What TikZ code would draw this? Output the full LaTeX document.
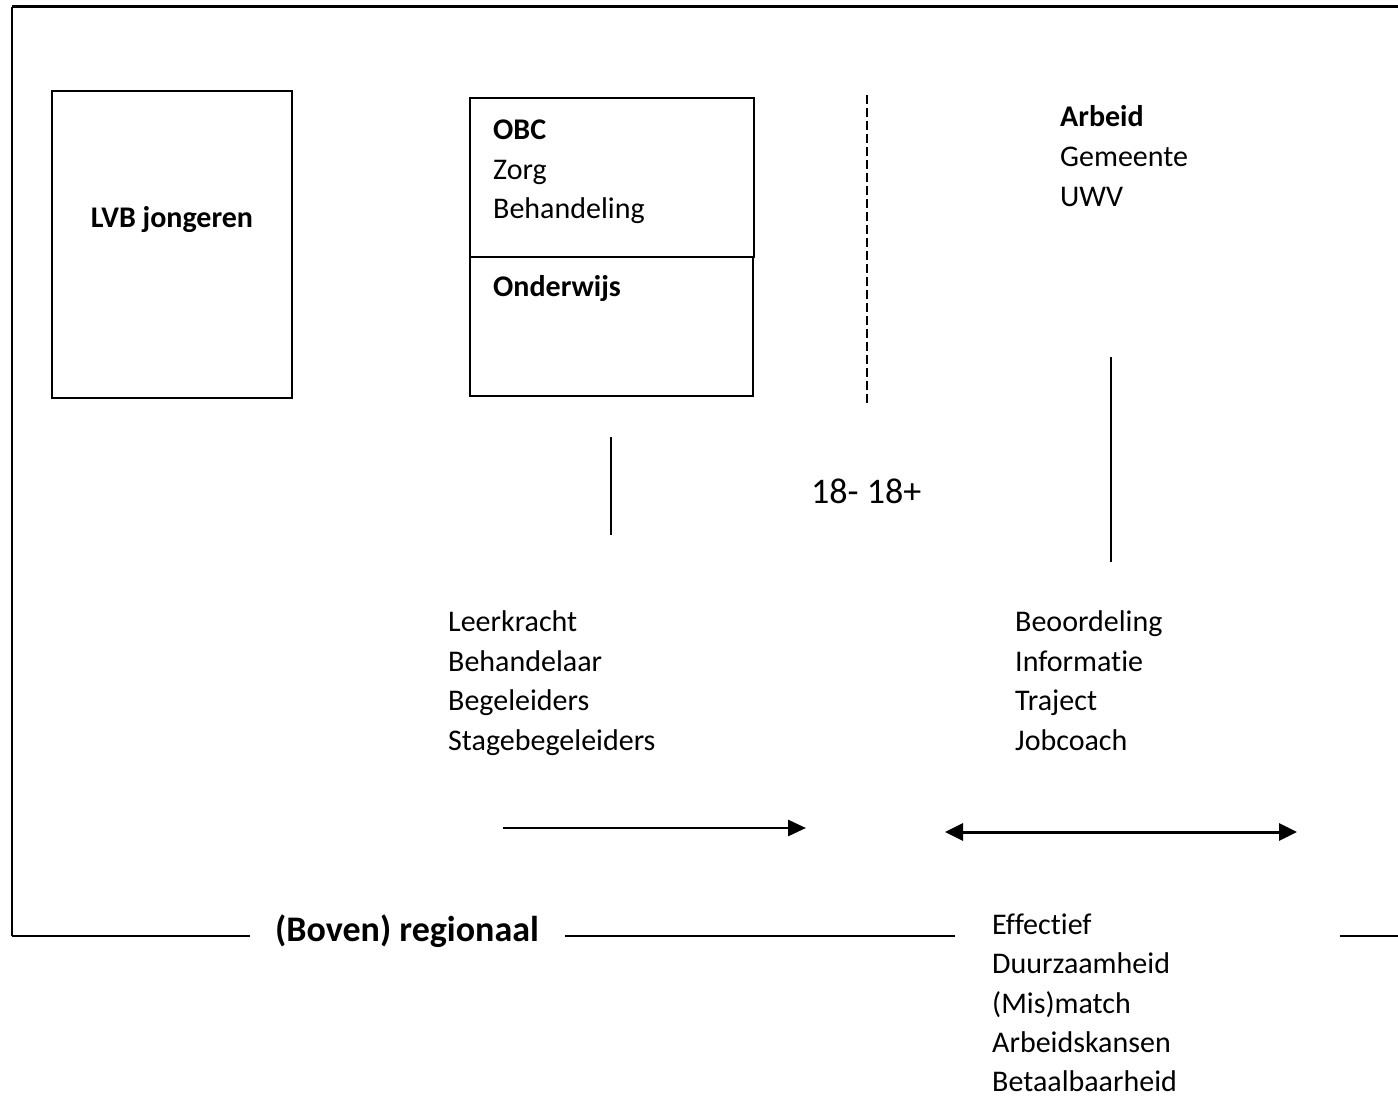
\documentclass[tikz,border=0pt]{standalone}
\usepackage{fontspec}
\setmainfont[Ligatures={NoCommon,NoContextual}]{Carlito}
\usetikzlibrary{arrows.meta}

\begin{document}
\begin{tikzpicture}[x=1pt,y=-1pt,
    txt/.style={anchor=base west,inner sep=0pt,font=\fontsize{30}{36}\selectfont},
    bold/.style={txt,font=\fontsize{30}{36}\selectfont\bfseries},
    big/.style={anchor=base west,inner sep=0pt,font=\fontsize{36}{43}\selectfont}]
    \useasboundingbox (0,0) rectangle (1398,1097);
    % Outer frame and bottom line
    \draw[line width=3pt] (12,7) -- (1398,7);
    \draw[line width=1.5pt] (12,7) -- (12,936);
    \draw[line width=2.5pt] (12,936) -- (250,936);
    \draw[line width=2.5pt] (565,936) -- (955,936);
    \draw[line width=2.5pt] (1340,936) -- (1398,936);
    \node[big,font=\fontsize{36}{43}\selectfont\bfseries] (regio) at (275,941) {(Boven) regionaal};
    % Boxes
    \draw[line width=1.5pt] (52,91) rectangle (292,398);
    \node[bold,anchor=base] (lvb) at (172,227.5) {LVB jongeren};
    \draw[line width=1.5pt] (470,98) rectangle (754,257);
    \draw[line width=1.5pt] (470,257) rectangle (753,396);
    \node[bold] (obc) at (493,139.5) {OBC};
    \node[txt] (zorg) at (493,179) {Zorg};
    \node[txt] (behandeling) at (493,218.5) {Behandeling};
    \node[bold] (onderwijs) at (493,296.5) {Onderwijs};
    % Arbeid
    \node[bold] (arbeid) at (1060,127) {Arbeid};
    \node[txt] (gemeente) at (1060,166.5) {Gemeente};
    \node[txt] (uwv) at (1060,206) {UWV};
    % Age border
    \draw[line width=1.2pt,dash pattern=on 9pt off 4pt] (867,95) -- (867,405);
    \node[big] (leeftijd) at (811,503.5) {18- 18+};
    % Short lines
    \draw[line width=1.3pt] (611,437) -- (611,535);
    \draw[line width=1.3pt] (1111,357) -- (1111,562);
    % Lists
    \foreach \w [count=\i] in {Leerkracht,Behandelaar,Begeleiders,Stagebegeleiders}
        \node[txt] (school\i) at (448,592+39.5*\i) {\w};
    \foreach \w [count=\i] in {Beoordeling,Informatie,Traject,Jobcoach}
        \node[txt] (werk\i) at (1015,592+39.5*\i) {\w};
    \foreach \w [count=\i] in {Effectief,Duurzaamheid,{(Mis)match},Arbeidskansen,Betaalbaarheid}
        \node[txt] (uitkomst\i) at (992,895.2+39.3*\i) {\w};
    % Arrows
    \draw[line width=2.8pt,-{Triangle[length=18pt,width=16pt]}] (503,828) -- (806,828);
    \draw[line width=3pt,{Triangle[length=18pt,width=17pt]}-{Triangle[length=18pt,width=17pt]}] (945,832) -- (1297,832);
\end{tikzpicture}
\end{document}
